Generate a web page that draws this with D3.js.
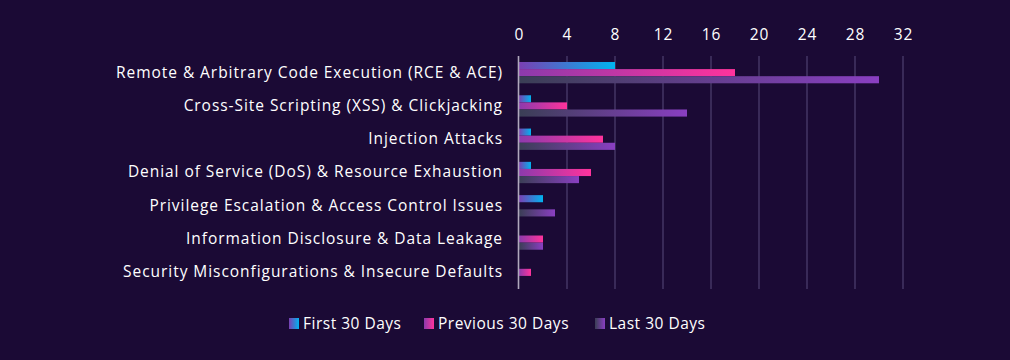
<!DOCTYPE html>
<html><head><meta charset="utf-8">
<script src="https://cdn.jsdelivr.net/npm/d3@7"></script>
<style>
html,body{margin:0;padding:0;background:#1b0a35;}
svg{display:block;}
text{font-family:"Open Sans","DejaVu Sans",sans-serif;fill:#ffffff;}
</style></head>
<body><svg id="c" width="1010" height="360"></svg>
<script>
const categories = [
  "Remote & Arbitrary Code Execution (RCE & ACE)",
  "Cross-Site Scripting (XSS) & Clickjacking",
  "Injection Attacks",
  "Denial of Service (DoS) & Resource Exhaustion",
  "Privilege Escalation & Access Control Issues",
  "Information Disclosure & Data Leakage",
  "Security Misconfigurations & Insecure Defaults"
];
const seriesNames = ["First 30 Days", "Previous 30 Days", "Last 30 Days"];
const firstDays = [8, 1, 1, 1, 2, 0, 0];
const previousDays = [18, 4, 7, 6, 0, 2, 1];
const lastDays = [30, 14, 8, 5, 3, 2, 0];
const tickValues = [0, 4, 8, 12, 16, 20, 24, 28, 32];

const seriesValues = [firstDays, previousDays, lastDays];
const gradStops = [["#7a3fb2", "#00b4f0"], ["#8c3aac", "#ff339c"], ["#3a3e55", "#8a3fc2"]];

const svg = d3.select("#c");
const x = d3.scaleLinear().domain([0, 32]).range([519, 903]);
const y = d3.scaleBand().domain(categories).range([56, 289]).paddingInner(0.36).paddingOuter(0.18);
const ys = d3.scaleBand().domain(d3.range(3)).range([0, y.bandwidth()]);

const defs = svg.append("defs");
gradStops.forEach((s, i) => {
  const g = defs.append("linearGradient").attr("id", "g" + i).attr("x1", 0).attr("x2", 1).attr("y1", 0).attr("y2", 0);
  g.append("stop").attr("offset", 0).attr("stop-color", s[0]);
  g.append("stop").attr("offset", 1).attr("stop-color", s[1]);
});

// grid
svg.append("g").selectAll("line").data(tickValues.slice(1)).join("line")
  .attr("x1", d => x(d)).attr("x2", d => x(d)).attr("y1", 56).attr("y2", 289)
  .attr("stroke", "#4b3d6c").attr("stroke-width", 1.3);

// top axis labels
const ax = d3.axisTop(x).tickValues(tickValues).tickSize(0).tickPadding(0);
const axg = svg.append("g").attr("transform", "translate(0,40)").call(ax);
axg.select(".domain").remove();
axg.selectAll("text").attr("font-size", 15.5).attr("letter-spacing", 1).attr("font-family", "\"Open Sans\",sans-serif").attr("fill", "#fff");

// bars
const groups = svg.append("g").selectAll("g").data(categories).join("g")
  .attr("transform", d => `translate(0,${y(d)})`);
groups.selectAll("rect").data((d, i) => seriesValues.map((s, k) => ({k, v: s[i]}))).join("rect")
  .filter(d => d.v > 0)
  .attr("x", x(0)).attr("y", d => ys(d.k)).attr("height", ys.bandwidth())
  .attr("width", d => x(d.v) - x(0)).attr("fill", d => `url(#g${d.k})`);

// zero axis line
svg.append("line").attr("x1", x(0) - 0.5).attr("x2", x(0) - 0.5).attr("y1", 56).attr("y2", 289)
  .attr("stroke", "#b0a8bc").attr("stroke-width", 1.6);

// category labels
const ay = d3.axisLeft(y).tickSize(0).tickPadding(16);
const ayg = svg.append("g").attr("transform", `translate(${x(0)},0)`).call(ay);
ayg.select(".domain").remove();
ayg.selectAll("text").attr("font-size", 15.5).attr("letter-spacing", 0.95).attr("font-family", "\"Open Sans\",sans-serif").attr("fill", "#fff");

// legend
const legX = [289, 424, 595];
const leg = svg.append("g").selectAll("g").data(seriesNames).join("g")
  .attr("transform", (d, i) => `translate(${legX[i]},318)`);
leg.append("rect").attr("width", 10).attr("height", 11).attr("fill", (d, i) => `url(#g${i})`);
leg.append("text").attr("x", 14).attr("y", 11).attr("font-size", 15.5).attr("letter-spacing", 0.5).text(d => d);
</script></body></html>
